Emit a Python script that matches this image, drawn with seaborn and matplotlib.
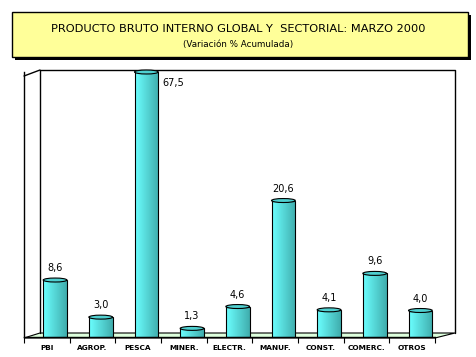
import numpy as np
import matplotlib.pyplot as plt
import seaborn as sns
from matplotlib.patches import Rectangle, Polygon, Ellipse

# datos
sectores = ["PBI", "AGROP.", "PESCA", "MINER.", "ELECTR.", "MANUF.", "CONST.", "COMERC.", "OTROS"]
variacion = [8.6, 3.0, 67.5, 1.3, 4.6, 20.6, 4.1, 9.6, 4.0]
etiquetas = ["8,6", "3,0", "67,5", "1,3", "4,6", "20,6", "4,1", "9,6", "4,0"]
y_max = 40

sns.set_style("white")
plt.rcParams['font.family'] = ['DejaVu Sans']
plt.rcParams['text.color'] = 'black'
plt.rcParams['xtick.color'] = 'black'
plt.rcParams['xtick.labelcolor'] = 'black'

W, H = 477, 357
fig = plt.figure(figsize=(W / 100, H / 100), dpi=100)

# fondo en coordenadas de pixel (pared, piso, caja del titulo)
bg = fig.add_axes([0, 0, 1, 1])
bg.set_xlim(0, W)
bg.set_ylim(H, 0)
bg.axis("off")

# caja del titulo con sombra
bg.add_patch(Rectangle((15, 15), 456, 45, facecolor="black", edgecolor="none"))
bg.add_patch(Rectangle((12, 12), 456, 45, facecolor="#FFFF99", edgecolor="black", lw=1))
bg.text(238, 29, "PRODUCTO BRUTO INTERNO GLOBAL Y  SECTORIAL: MARZO 2000",
        ha="center", va="center", fontsize=8.2)
bg.text(238, 44, "(Variación % Acumulada)", ha="center", va="center", fontsize=6.3)

# piso y pared del fondo
bg.add_patch(Polygon([(24, 338), (40, 333), (455, 333), (435, 338)],
                     closed=True, facecolor="#DDFFDD", edgecolor="black", lw=0.8))
bg.plot([40, 40, 455, 455], [333, 70, 70, 333], color="black", lw=1)
bg.plot([24, 40], [76, 70], color="black", lw=1)

# ejes de datos
ax = fig.add_axes([24 / W, 1 - 337 / H, (435 - 24) / W, (337 - 72) / H])
ax.set_facecolor("none")
sns.barplot(x=sectores, y=variacion, ax=ax, width=0.52, color="#66E6E6",
            edgecolor="black", linewidth=0.8, zorder=3)
ax.set_ylim(0, y_max)
ax.set_xlim(-0.68, 8.32)

grad = np.linspace(0, 1, 64)
c_izq = np.array([0.42, 1.0, 1.0])
c_der = np.array([0.25, 0.68, 0.68])
img = (c_izq[None, :] * (1 - grad[:, None]) + c_der[None, :] * grad[:, None])[None, :, :]

for p, lab in zip(ax.patches, etiquetas):
    x0, w, h = p.get_x(), p.get_width(), p.get_height()
    top = min(h, y_max)
    p.set_facecolor("none")
    im = ax.imshow(img, extent=[x0, x0 + w, 0, top], aspect="auto", zorder=2,
                   interpolation="bilinear")
    im.set_clip_path(p)
    ax.add_patch(Ellipse((x0 + w / 2, top), w, 0.6, facecolor="#4FD0D0",
                         edgecolor="black", lw=0.8, zorder=4, clip_on=False))
    if h > y_max:
        ax.annotate(lab, (x0 + w, top), xytext=(3, -4), textcoords="offset points",
                    ha="left", va="top", fontsize=7)
    else:
        ax.annotate(lab, (x0 + w / 2, top), xytext=(0, 5), textcoords="offset points",
                    ha="center", va="bottom", fontsize=7)
ax.set_xlim(-0.68, 8.32)
ax.set_ylim(0, y_max)

# ticks del eje x
ax.set_xticks(np.arange(9) - 0.18)
ax.set_xticklabels(sectores, fontsize=5.3, fontweight="bold")
ax.set_xticks(np.arange(10) - 0.68, minor=True)
ax.tick_params(axis="x", which="major", length=0, pad=6)
ax.tick_params(axis="x", which="minor", length=4, width=0.8, direction="out", bottom=True)
ax.set_yticks([])
for s in ["top", "right"]:
    ax.spines[s].set_visible(False)
for s in ["left", "bottom"]:
    ax.spines[s].set_color("black")
    ax.spines[s].set_linewidth(1)

fig.savefig("out.png", dpi=100)
